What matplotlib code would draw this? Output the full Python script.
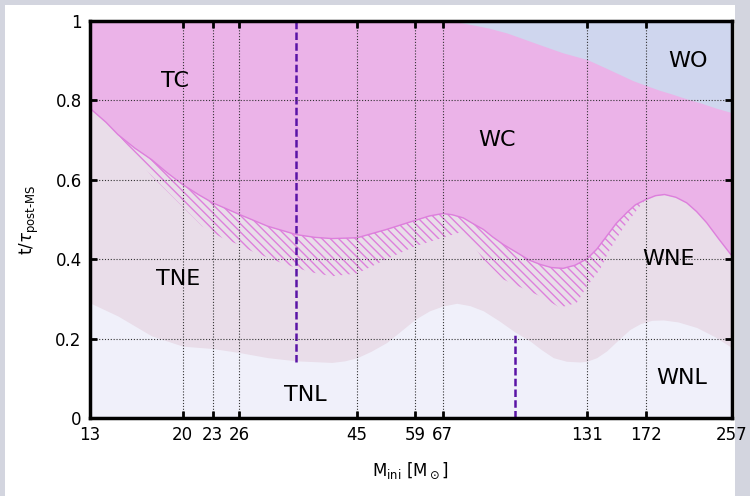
#!/usr/bin/env python3
"""
Post-MS surface composition phases vs initial mass
"""
import numpy as np
import matplotlib
matplotlib.use('Agg')
import matplotlib.pyplot as plt
from matplotlib.patches import Rectangle

# x ticks (initial masses)
TICKS = [13, 20, 23, 26, 45, 59, 67, 131, 172, 257]

# TNL/WNL upper edge
m_low = [13, 14.8, 17.3, 20, 23, 26, 29.7, 33.9, 40, 42.5, 45, 48, 51.6, 55,
         59, 63, 67, 71.5, 76, 80.9, 87, 93.6, 100.5, 106, 112, 119, 126.8,
         131, 137, 143.5, 151, 159.9, 168, 177, 186.7, 200, 218.1, 237, 257]
y_low = [0.29, 0.257, 0.207, 0.181, 0.175, 0.165, 0.152, 0.144, 0.14, 0.144,
         0.152, 0.168, 0.19, 0.218, 0.249, 0.27, 0.282, 0.289, 0.283, 0.27,
         0.245, 0.217, 0.194, 0.172, 0.152, 0.143, 0.141, 0.143, 0.152, 0.169,
         0.195, 0.223, 0.238, 0.246, 0.247, 0.242, 0.228, 0.205, 0.177]

# TNE/WNE -> TC/WC boundary
m_c = [13, 14, 14.8, 16, 17.3, 18.6, 20, 21.5, 23, 26, 29.7, 33.9, 37, 40, 45,
       51.6, 59, 63, 67, 70, 73.7, 77, 80.9, 84.5, 88.8, 95.9, 100, 105.3, 111,
       117.3, 124, 131, 137, 143.5, 150, 157.5, 164, 172, 180, 187.8, 198,
       208.2, 218, 228.4, 242, 257]
y_c = [0.78, 0.745, 0.714, 0.68, 0.651, 0.618, 0.588, 0.563, 0.542, 0.513,
       0.483, 0.462, 0.455, 0.452, 0.454, 0.475, 0.498, 0.509, 0.515, 0.512,
       0.504, 0.49, 0.475, 0.456, 0.437, 0.412, 0.398, 0.387, 0.379, 0.377,
       0.385, 0.401, 0.425, 0.458, 0.49, 0.517, 0.537, 0.55, 0.56, 0.563,
       0.556, 0.542, 0.52, 0.492, 0.45, 0.408]

# lower edge of the hatched band
m_hatch = [14.8, 17.3, 21.9, 24.0, 25.9, 27.6, 32.2, 36.4, 40, 45, 51.6, 59,
           67, 73.7, 80.9, 88.8, 95.9, 105.3, 115.5, 124.9, 131, 139.1, 145.8,
           155.1, 167.6, 172]
y_hatch = [0.714, 0.61, 0.483, 0.454, 0.437, 0.42, 0.387, 0.367, 0.357, 0.364,
           0.40, 0.433, 0.454, 0.47, 0.40, 0.349, 0.33, 0.307, 0.278, 0.29,
           0.332, 0.374, 0.425, 0.479, 0.534, 0.55]

# WC -> WO boundary
m_o = [13, 60, 67.3, 72, 77.2, 83, 90.2, 97, 105.3, 117, 131, 141, 152.7, 162,
       172, 183, 195.6, 208, 221.5, 238, 257]
y_o = [1.0, 1.0, 1.0, 0.997, 0.99, 0.982, 0.97, 0.956, 0.94, 0.92, 0.903,
       0.885, 0.865, 0.85, 0.838, 0.826, 0.815, 0.804, 0.794, 0.781, 0.769]

# dashed markers: (mass, ymin, ymax)
dashed = [(33.9, 0.14, 1.0), (93.6, 0.0, 0.214)]

labels = [('TC', 19.3, 0.85), ('WC', 86.2, 0.70), ('WO', 209.5, 0.90),
          ('TNE', 19.6, 0.35), ('WNE', 190.9, 0.40),
          ('TNL', 35.3, 0.058), ('WNL', 203.7, 0.10)]

plt.rcParams['hatch.linewidth'] = 1.0

fig = plt.figure(figsize=(7.5, 4.96), dpi=100, facecolor='#d3d5df')
fig.patches.append(Rectangle((5 / 750, 0), 730 / 750, 491 / 496,
                             transform=fig.transFigure, facecolor='white',
                             edgecolor='none', zorder=-1))
ax = fig.add_axes([90 / 750, 78 / 496, 642 / 750, 397 / 496])
ax.set_xscale('log')
ax.set_xlim(13, 257)
ax.set_ylim(0, 1)

ax.fill_between([13, 257], 0, 1, color='#e9dde9', lw=0, zorder=0)
ax.fill_between(m_low, 0, y_low, color='#f0f0fa', lw=0, zorder=1)
ax.fill_between(m_c, y_c, 1, color='#ebb3e8', lw=0, zorder=2)
ax.fill_between(m_o, y_o, 1, color='#cfd6ee', lw=0, zorder=3)

# hatched band just below the C boundary
mc = np.array(m_c)
yc = np.array(y_c)
sel = (mc >= m_hatch[0]) & (mc <= m_hatch[-1])
px = np.concatenate([mc[sel], m_hatch[::-1]])
py = np.concatenate([yc[sel], y_hatch[::-1]])
ax.fill(px, py, facecolor='none', edgecolor='#de80dc', hatch='\\' * 4,
        lw=0, zorder=4)
ax.plot(m_c, y_c, color='#dd7fdc', lw=1.0, zorder=5)

for m, y0, y1 in dashed:
    ax.plot([m, m], [y0, y1], color='#5a14a6', lw=1.8, dashes=(3, 1.3), zorder=6)

# grid on top of the filled areas
ax.set_axisbelow(False)
ax.grid(True, which='major', color='#333333', ls=(0, (1, 1.6)), lw=0.8)
ax.xaxis.set_zorder(7)
ax.yaxis.set_zorder(7)

ax.set_xticks(TICKS)
ax.set_xticklabels([str(t) for t in TICKS])
ax.xaxis.set_minor_locator(matplotlib.ticker.NullLocator())
ax.set_yticks([0, 0.2, 0.4, 0.6, 0.8, 1])
ax.set_yticklabels(['0', '0.2', '0.4', '0.6', '0.8', '1'])
ax.tick_params(direction='in', length=5, width=2, top=True, right=True,
               labelsize=12, pad=6)
for s in ax.spines.values():
    s.set_linewidth(2.5)
    s.set_zorder(8)

for txt, m, y in labels:
    ax.text(m, y, txt, fontsize=16, ha='center', va='center', zorder=9)

ax.set_ylabel(r't/$\tau_{\mathrm{post\text{-}MS}}$', fontsize=12, labelpad=10)
ax.set_xlabel(r'M$_{\mathrm{ini}}$ [M$_\odot$]', fontsize=12, labelpad=12)

fig.savefig('out.png', dpi=100, facecolor=fig.get_facecolor())
